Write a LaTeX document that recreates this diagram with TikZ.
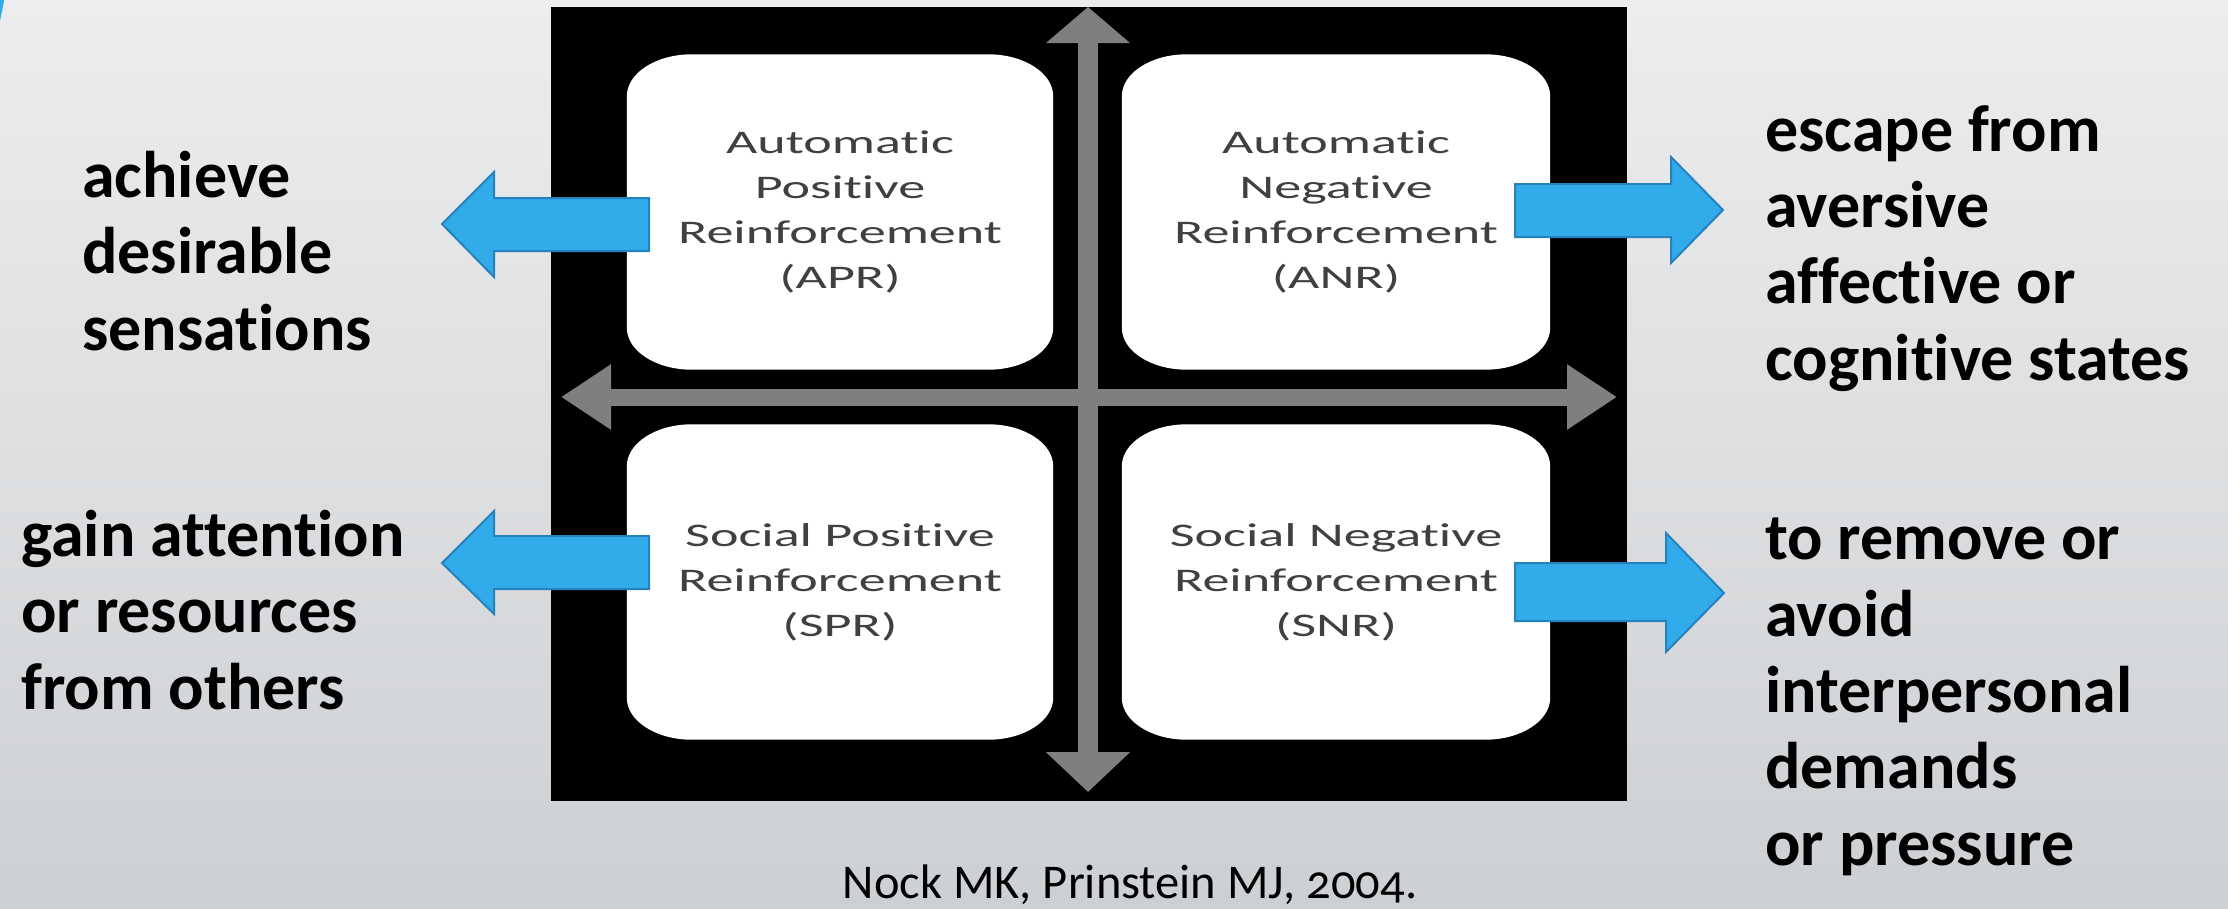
\documentclass[tikz,border=0pt]{standalone}
\usepackage{fontspec}
\setmainfont{Carlito}[Ligatures=NoCommon]
\newfontfamily\boxfont[FakeStretch=1.64,Ligatures=NoCommon]{Carlito}
\newfontfamily\citefont[Numbers=OldStyle,Ligatures=NoCommon]{Carlito}
\usetikzlibrary{arrows.meta,calc}
\definecolor{bgtop}{HTML}{ECEDEE}
\definecolor{bgbot}{HTML}{CDD0D3}
\definecolor{axisgray}{HTML}{7F7F7F}
\definecolor{boxtext}{HTML}{404040}
\definecolor{arrblue}{HTML}{31ABE9}
\definecolor{arrblueline}{HTML}{2682BD}
\pgfdeclarelayer{back}
\pgfdeclarelayer{boxes}
\pgfsetlayers{back,boxes,main}
\tikzset{
  qbox/.style={inner sep=0pt, minimum width=#1, minimum height=315pt, align=center,
    text=boxtext, font=\boxfont\fontsize{33}{45}\selectfont},
  label/.style={inner sep=0pt, anchor=base west, align=left,
    font=\bfseries\fontsize{66}{76.3}\selectfont},
  bluearr/.style={fill=arrblue, draw=arrblueline, line width=2pt, line join=miter},
}
\newcommand\ellbox[1]{%
  \fill[white] let \p1=(#1.north west), \p2=(#1.south east) in
    (\x1+65pt,\y1) -- (\x2-65pt,\y1)
    arc[start angle=90,end angle=0,x radius=65pt,y radius=42pt]
    -- (\x2,\y2+42pt)
    arc[start angle=0,end angle=-90,x radius=65pt,y radius=42pt]
    -- (\x1+65pt,\y2)
    arc[start angle=270,end angle=180,x radius=65pt,y radius=42pt]
    -- (\x1,\y1-42pt)
    arc[start angle=180,end angle=90,x radius=65pt,y radius=42pt]
    -- cycle;}
\begin{document}
\begin{tikzpicture}[x=1pt,y=-1pt]
\useasboundingbox (0,0) rectangle (2228,908);
% boxes (text nodes)
\node[qbox=426pt] (apr) at (840,212) {Automatic\\Positive\\Reinforcement\\(APR)};
\node[qbox=428pt] (anr) at (1336,212) {Automatic\\Negative\\Reinforcement\\(ANR)};
\node[qbox=426pt] (spr) at (840,582) {Social Positive\\Reinforcement\\(SPR)};
\node[qbox=428pt] (snr) at (1336,582) {Social Negative\\Reinforcement\\(SNR)};
\begin{pgfonlayer}{back}
  \shade[top color=bgtop, bottom color=bgbot] (0,0) rectangle (2228,908);
  \fill[arrblue] (0,0) -- (4,0) .. controls (3,8) and (1,15) .. (0,21) -- cycle;
  \fill[black] (551,7) rectangle (1627,801);
  \coordinate (vtop) at (1088,7);
  \coordinate (vbot) at (1088,792);
  \coordinate (hleft) at (561,397);
  \coordinate (hright) at (1617,397);
  \draw[axisgray, line width=20pt, {Triangle[width=82pt,length=36pt]}-{Triangle[width=82pt,length=40pt]}] (vtop) -- (vbot);
  \draw[axisgray, line width=17pt, {Triangle[width=62pt,length=50pt]}-{Triangle[width=62pt,length=50pt]}] (hleft) -- (hright);
\end{pgfonlayer}
\begin{pgfonlayer}{boxes}
  \ellbox{apr}\ellbox{anr}\ellbox{spr}\ellbox{snr}
\end{pgfonlayer}
% labels (anchored at the baseline of their last line)
\node[label] (lab1) at (82,350) {achieve\\desirable\\sensations};
\node[label] (lab2) at (21,709) {gain attention\\or resources\\from others};
\node[label] (lab3) at (1765,380) {escape from\\aversive\\affective or\\cognitive states};
\node[label] (lab4) at (1765,865) {to remove or\\avoid\\interpersonal\\demands\\or pressure};
% blue arrows
\coordinate (apr tip) at (442,224);
\coordinate (spr tip) at (442,563);
\coordinate (anr tip) at (1723,210);
\coordinate (snr tip) at (1724,593);
\filldraw[bluearr] (apr tip) -- ++(52,-52) -- ++(0,26) -- ++(155,0) -- ++(0,53) -- ++(-155,0) -- ++(0,26) -- cycle;
\filldraw[bluearr] (spr tip) -- ++(52,-52) -- ++(0,25) -- ++(155,0) -- ++(0,53) -- ++(-155,0) -- ++(0,25) -- cycle;
\filldraw[bluearr] (anr tip) -- ++(-52,-53) -- ++(0,27) -- ++(-156,0) -- ++(0,53) -- ++(156,0) -- ++(0,26) -- cycle;
\filldraw[bluearr] (snr tip) -- ++(-58,-60) -- ++(0,30) -- ++(-151,0) -- ++(0,58) -- ++(151,0) -- ++(0,31) -- cycle;
% citation
\node[inner sep=0pt, anchor=base, font=\citefont\fontsize{48.5}{52}\selectfont] (cite) at (1130,898) {Nock MK, Prinstein MJ, 2004.};
\end{tikzpicture}
\end{document}
